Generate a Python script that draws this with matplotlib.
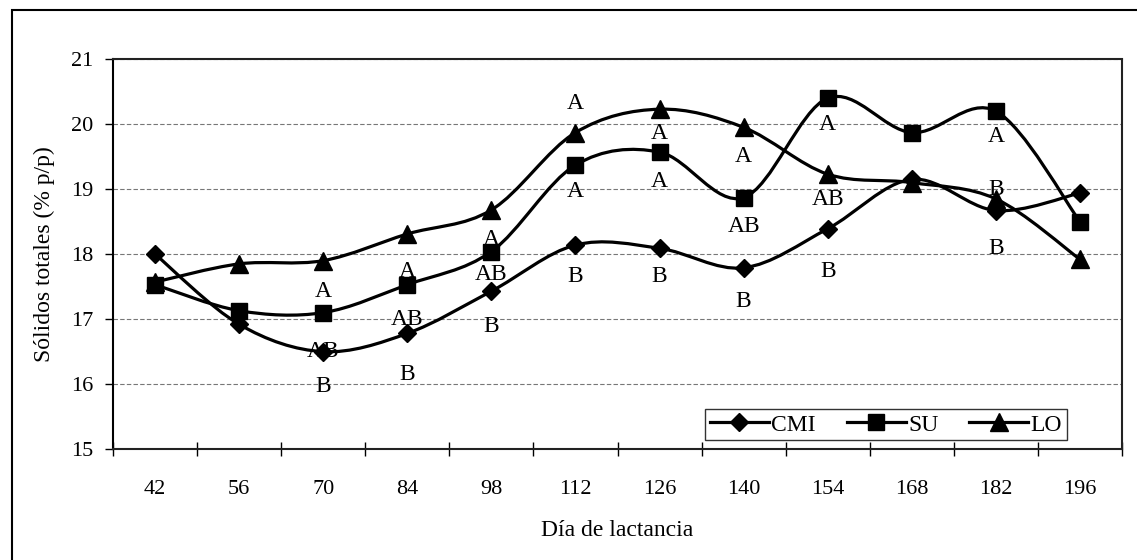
import matplotlib.pyplot as plt
from matplotlib.path import Path
from matplotlib.patches import PathPatch, Rectangle
from matplotlib.lines import Line2D

plt.rcParams['font.family'] = ['Liberation Serif', 'DejaVu Serif']

dias = [42, 56, 70, 84, 98, 112, 126, 140, 154, 168, 182, 196]
cmi = [18.00, 16.92, 16.50, 16.78, 17.43, 18.14, 18.09, 17.79, 18.39, 19.15, 18.67, 18.94]
su = [17.53, 17.13, 17.10, 17.53, 18.04, 19.37, 19.57, 18.87, 20.40, 19.87, 20.20, 18.50]
lo = [17.57, 17.85, 17.90, 18.31, 18.68, 19.87, 20.23, 19.95, 19.23, 19.10, 18.85, 17.92]

# letras de significancia (dia, valor, texto)
letras = [
    (70, 17.42, 'A'), (70, 16.50, 'AB'), (70, 15.97, 'B'),
    (84, 17.73, 'A'), (84, 16.99, 'AB'), (84, 16.15, 'B'),
    (98, 18.22, 'A'), (98, 17.68, 'AB'), (98, 16.88, 'B'),
    (112, 20.31, 'A'), (112, 18.96, 'A'), (112, 17.65, 'B'),
    (126, 19.86, 'A'), (126, 19.12, 'A'), (126, 17.65, 'B'),
    (140, 19.50, 'A'), (140, 18.42, 'AB'), (140, 17.27, 'B'),
    (154, 20.00, 'A'), (154, 18.84, 'AB'), (154, 17.73, 'B'),
    (182, 19.81, 'A'), (182, 18.99, 'B'), (182, 18.08, 'B'),
]


def suave(xs, ys):
    # curva suavizada tipo Excel (Catmull-Rom -> Bezier)
    pts = list(zip(xs, ys))
    verts = [pts[0]]
    codes = [Path.MOVETO]
    n = len(pts)
    for i in range(n - 1):
        p0 = pts[i - 1] if i > 0 else pts[i]
        p1 = pts[i]
        p2 = pts[i + 1]
        p3 = pts[i + 2] if i + 2 < n else pts[i + 1]
        c1 = (p1[0] + (p2[0] - p0[0]) / 6, p1[1] + (p2[1] - p0[1]) / 6)
        c2 = (p2[0] - (p3[0] - p1[0]) / 6, p2[1] - (p3[1] - p1[1]) / 6)
        verts += [c1, c2, p2]
        codes += [Path.CURVE4] * 3
    return Path(verts, codes)


fig = plt.figure(figsize=(11.37, 5.6), dpi=100)
ax = fig.add_axes([0.0994, 0.198, 0.8874, 0.6964])

x = list(range(1, len(dias) + 1))
series = [(cmi, 'D', 9, 'CMI'), (su, 's', 12, 'SU'), (lo, '^', 13, 'LO')]
handles = []
for ys, mk, ms, nombre in series:
    ax.add_patch(PathPatch(suave(x, ys), facecolor='none', edgecolor='black', lw=2.3, zorder=3))
    ax.plot(x, ys, linestyle='none', marker=mk, ms=ms, color='black', zorder=4)
    handles.append(Line2D([], [], color='black', lw=2.3, marker=mk, ms=ms, label=nombre))

for d, v, t in letras:
    ax.text(dias.index(d) + 1, v, t, ha='center', va='center', fontsize=17, zorder=5)

ax.set_xlim(0.5, len(dias) + 0.5)
ax.set_ylim(15, 21)
ax.set_yticks(range(15, 22))
ax.set_xticks(x)
ax.set_xticklabels([str(d) for d in dias])
ax.set_xticks([i + 0.5 for i in range(0, len(dias) + 1)], minor=True)
ax.tick_params(axis='x', which='major', length=0, pad=22, labelsize=16)
ax.tick_params(axis='x', which='minor', length=10, direction='inout', width=1)
ax.tick_params(axis='y', length=6, width=1, pad=8, labelsize=16)

ax.grid(axis='y', color='#777777', linestyle=(0, (4, 2)), lw=0.8)
ax.set_axisbelow(True)
for s in ['top', 'right', 'bottom']:
    ax.spines[s].set_color('#222222')
    ax.spines[s].set_linestyle((0, (3, 1)))
    ax.spines[s].set_linewidth(1.5)
ax.spines['left'].set_linewidth(1.5)

ax.set_xlabel('Día de lactancia', fontsize=17, labelpad=15)
ax.set_ylabel('Sólidos totales (% p/p)', fontsize=17, labelpad=12)

leg = ax.legend(handles=handles, loc='center', bbox_to_anchor=(0.766, 0.062), ncol=3,
                fontsize=17, handlelength=2.5, handletextpad=0.1, columnspacing=1.3,
                frameon=True, fancybox=False, borderpad=0.2, borderaxespad=0)
leg.get_frame().set_edgecolor('black')
leg.get_frame().set_linewidth(1.0)

# marco exterior
fig.add_artist(Rectangle((12 / 1137, -0.2), 1.5, 1.2 - 10 / 560, transform=fig.transFigure,
                         fill=False, edgecolor='black', lw=1.5))

fig.savefig('out.png', dpi=100)
